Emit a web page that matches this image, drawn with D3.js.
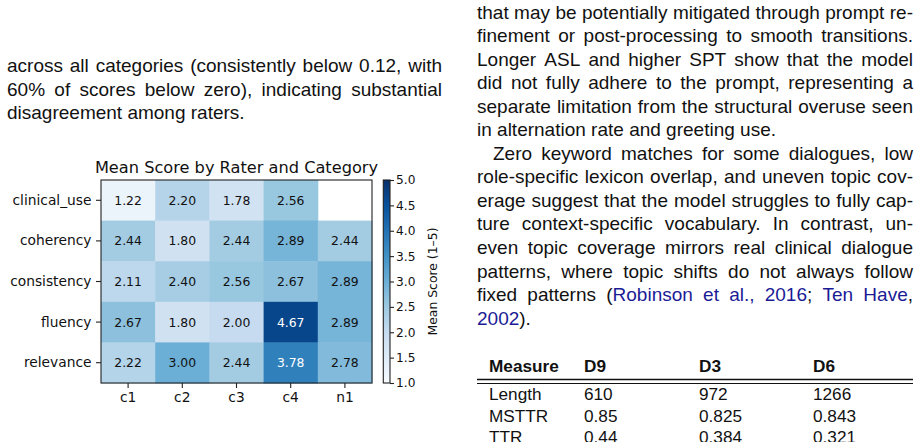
<!DOCTYPE html>
<html>
<head>
<meta charset="utf-8">
<script src="https://cdn.jsdelivr.net/npm/d3@7"></script>
<style>
  html, body { margin: 0; padding: 0; background: #fff; }
  svg { display: block; }
</style>
</head>
<body>
<svg id="page" width="923" height="442"></svg>
<script>
// heatmap data
const categories = ["clinical_use", "coherency", "consistency", "fluency", "relevance"];
const raters = ["c1", "c2", "c3", "c4", "n1"];
const scores = [
  [1.22, 2.20, 1.78, 2.56, null],
  [2.44, 1.80, 2.44, 2.89, 2.44],
  [2.11, 2.40, 2.56, 2.67, 2.89],
  [2.67, 1.80, 2.00, 4.67, 2.89],
  [2.22, 3.00, 2.44, 3.78, 2.78]
];
const cbarTicks = [1.0, 1.5, 2.0, 2.5, 3.0, 3.5, 4.0, 4.5, 5.0];
// matplotlib "Blues"
const blues = ["#f7fbff", "#deebf7", "#c6dbef", "#9ecae1", "#6baed6", "#4292c6", "#2171b5", "#08519c", "#08306b"];

// surrounding paper text ({...} = citation link)
const leftLines = [
  "across all categories (consistently below 0.12, with",
  "60% of scores below zero), indicating substantial",
  "disagreement among raters."
];
const rightLines = [
  "that may be potentially mitigated through prompt re-",
  "finement or post-processing to smooth transitions.",
  "Longer ASL and higher SPT show that the model",
  "did not fully adhere to the prompt, representing a",
  "separate limitation from the structural overuse seen",
  "in alternation rate and greeting use.",
  "Zero keyword matches for some dialogues, low",
  "role-specific lexicon overlap, and uneven topic cov-",
  "erage suggest that the model struggles to fully cap-",
  "ture context-specific vocabulary.  In contrast, un-",
  "even topic coverage mirrors real clinical dialogue",
  "patterns, where topic shifts do not always follow",
  "fixed patterns ({Robinson} {et} {al.,} {2016}; {Ten} {Have},",
  "{2002})."
];
const tableHeader = ["Measure", "D9", "D3", "D6"];
const tableRows = [
  ["Length", "610", "972", "1266"],
  ["MSTTR", "0.85", "0.825", "0.843"],
  ["TTR", "0.44", "0.384", "0.321"]
];

const svg = d3.select("#page");
svg.append("rect").attr("width", 923).attr("height", 442).attr("fill", "#fff");

const bodyFont = "'Liberation Sans', Arial, Helvetica, sans-serif";
const bodySize = 19;
const linkColor = "#1b1b96";

// draw one line of words, justified between x0 and x1 if asked
function drawLine(g, str, x0, x1, y, justify) {
  const words = str.split(/ +/);
  const items = words.map(w => {
    const t = g.append("text")
      .attr("y", y)
      .attr("font-family", bodyFont)
      .attr("font-size", bodySize)
      .attr("fill", "#111");
    w.split(/(\{[^}]*\})/).filter(s => s.length).forEach(s => {
      const isLink = s.startsWith("{");
      t.append("tspan")
        .attr("fill", isLink ? linkColor : "#111")
        .text(isLink ? s.slice(1, -1) : s);
    });
    return { t, w: t.node().getComputedTextLength() };
  });
  const total = d3.sum(items, d => d.w);
  const gap = justify && items.length > 1
    ? (x1 - x0 - total) / (items.length - 1)
    : bodySize * 0.278;
  let x = x0;
  items.forEach(d => { d.t.attr("x", x); x += d.w + gap; });
}

const textG = svg.append("g");
const lineStep = 23.55;
leftLines.forEach((l, i) => {
  drawLine(textG, l, 7, 442, 72 + i * lineStep, i < leftLines.length - 1);
});
rightLines.forEach((l, i) => {
  const last = i === 5 || i === rightLines.length - 1;
  const x0 = i === 6 ? 493 : 477;
  drawLine(textG, l, x0, 913, 18.5 + i * lineStep, !last);
});

// table
const colX = [489, 584, 699, 813];
const tableG = svg.append("g")
  .attr("font-family", bodyFont)
  .attr("font-size", 17.2)
  .attr("fill", "#111");
tableHeader.forEach((h, j) => {
  tableG.append("text").attr("x", colX[j]).attr("y", 372)
    .attr("font-weight", "bold").text(h);
});
tableG.append("line").attr("x1", 477).attr("x2", 913).attr("y1", 379.5).attr("y2", 379.5)
  .attr("stroke", "#111").attr("stroke-width", 1.5);
tableG.append("line").attr("x1", 477).attr("x2", 913).attr("y1", 383.5).attr("y2", 383.5)
  .attr("stroke", "#111").attr("stroke-width", 1);
tableRows.forEach((r, i) => {
  r.forEach((c, j) => {
    tableG.append("text").attr("x", colX[j]).attr("y", 400 + i * 21.7).text(c);
  });
});

// heatmap
const plot = { left: 101, right: 372, top: 180, bottom: 383 };
const x = d3.scaleBand().domain(raters).range([plot.left, plot.right]);
const y = d3.scaleBand().domain(categories).range([plot.top, plot.bottom]);
const color = d3.scaleLinear()
  .domain(blues.map((_, i) => 1 + i * 4 / (blues.length - 1)))
  .range(blues)
  .clamp(true);

const cells = [];
categories.forEach((c, i) => raters.forEach((r, j) => {
  if (scores[i][j] != null) cells.push({ c, r, v: scores[i][j] });
}));

const hm = svg.append("g");
hm.selectAll("rect.cell")
  .data(cells)
  .enter().append("rect")
  .attr("class", "cell")
  .attr("x", d => x(d.r))
  .attr("y", d => y(d.c))
  .attr("width", x.bandwidth() + 0.5)
  .attr("height", y.bandwidth() + 0.5)
  .attr("fill", d => color(d.v));

hm.selectAll("text.val")
  .data(cells)
  .enter().append("text")
  .attr("class", "val")
  .attr("x", d => x(d.r) + x.bandwidth() / 2)
  .attr("y", d => y(d.c) + y.bandwidth() / 2)
  .attr("dy", "0.36em")
  .attr("text-anchor", "middle")
  .attr("font-family", "'DejaVu Sans', sans-serif")
  .attr("font-size", 12.4)
  .attr("fill", d => d.v > 3.4 ? "#fff" : "#111")
  .text(d => d.v.toFixed(2));

hm.append("rect")
  .attr("x", plot.left).attr("y", plot.top)
  .attr("width", plot.right - plot.left).attr("height", plot.bottom - plot.top)
  .attr("fill", "none").attr("stroke", "#222").attr("stroke-width", 1.1);

function styleAxis(g, size) {
  g.select(".domain").remove();
  g.selectAll(".tick line").attr("stroke", "#222").attr("stroke-width", 1.1);
  g.selectAll(".tick text")
    .attr("font-family", "'DejaVu Sans', sans-serif")
    .attr("font-size", size)
    .attr("fill", "#111");
}

hm.append("g")
  .attr("transform", `translate(${plot.left},0)`)
  .call(d3.axisLeft(y).tickSize(5).tickPadding(4.5))
  .call(g => styleAxis(g, 13.8));

hm.append("g")
  .attr("transform", `translate(0,${plot.bottom})`)
  .call(d3.axisBottom(x).tickSize(5).tickPadding(4.5))
  .call(g => styleAxis(g, 13.8));

hm.append("text")
  .attr("x", (plot.left + plot.right) / 2)
  .attr("y", 173)
  .attr("text-anchor", "middle")
  .attr("font-family", "'DejaVu Sans', sans-serif")
  .attr("font-size", 16.2)
  .attr("fill", "#111")
  .text("Mean Score by Rater and Category");

// colorbar
const cb = { x: 383.3, w: 6.7 };
const cy = d3.scaleLinear().domain([1, 5]).range([plot.bottom, plot.top]);
const grad = svg.append("defs").append("linearGradient")
  .attr("id", "cbar").attr("x1", 0).attr("y1", 1).attr("x2", 0).attr("y2", 0);
grad.selectAll("stop")
  .data(blues)
  .enter().append("stop")
  .attr("offset", (d, i) => i / (blues.length - 1))
  .attr("stop-color", d => d);

hm.append("rect")
  .attr("x", cb.x).attr("y", plot.top)
  .attr("width", cb.w).attr("height", plot.bottom - plot.top)
  .attr("fill", "url(#cbar)")
  .attr("stroke", "#222").attr("stroke-width", 1.1);

hm.append("g")
  .attr("transform", `translate(${cb.x + cb.w},0)`)
  .call(d3.axisRight(cy).tickValues(cbarTicks).tickFormat(d3.format(".1f")).tickSize(4).tickPadding(2))
  .call(g => styleAxis(g, 12.2));

hm.append("text")
  .attr("transform", `translate(433,${(plot.top + plot.bottom) / 2}) rotate(-90)`)
  .attr("dy", "0.36em")
  .attr("text-anchor", "middle")
  .attr("font-family", "'DejaVu Sans', sans-serif")
  .attr("font-size", 12.4)
  .attr("fill", "#111")
  .text("Mean Score (1–5)");
</script>
</body>
</html>
